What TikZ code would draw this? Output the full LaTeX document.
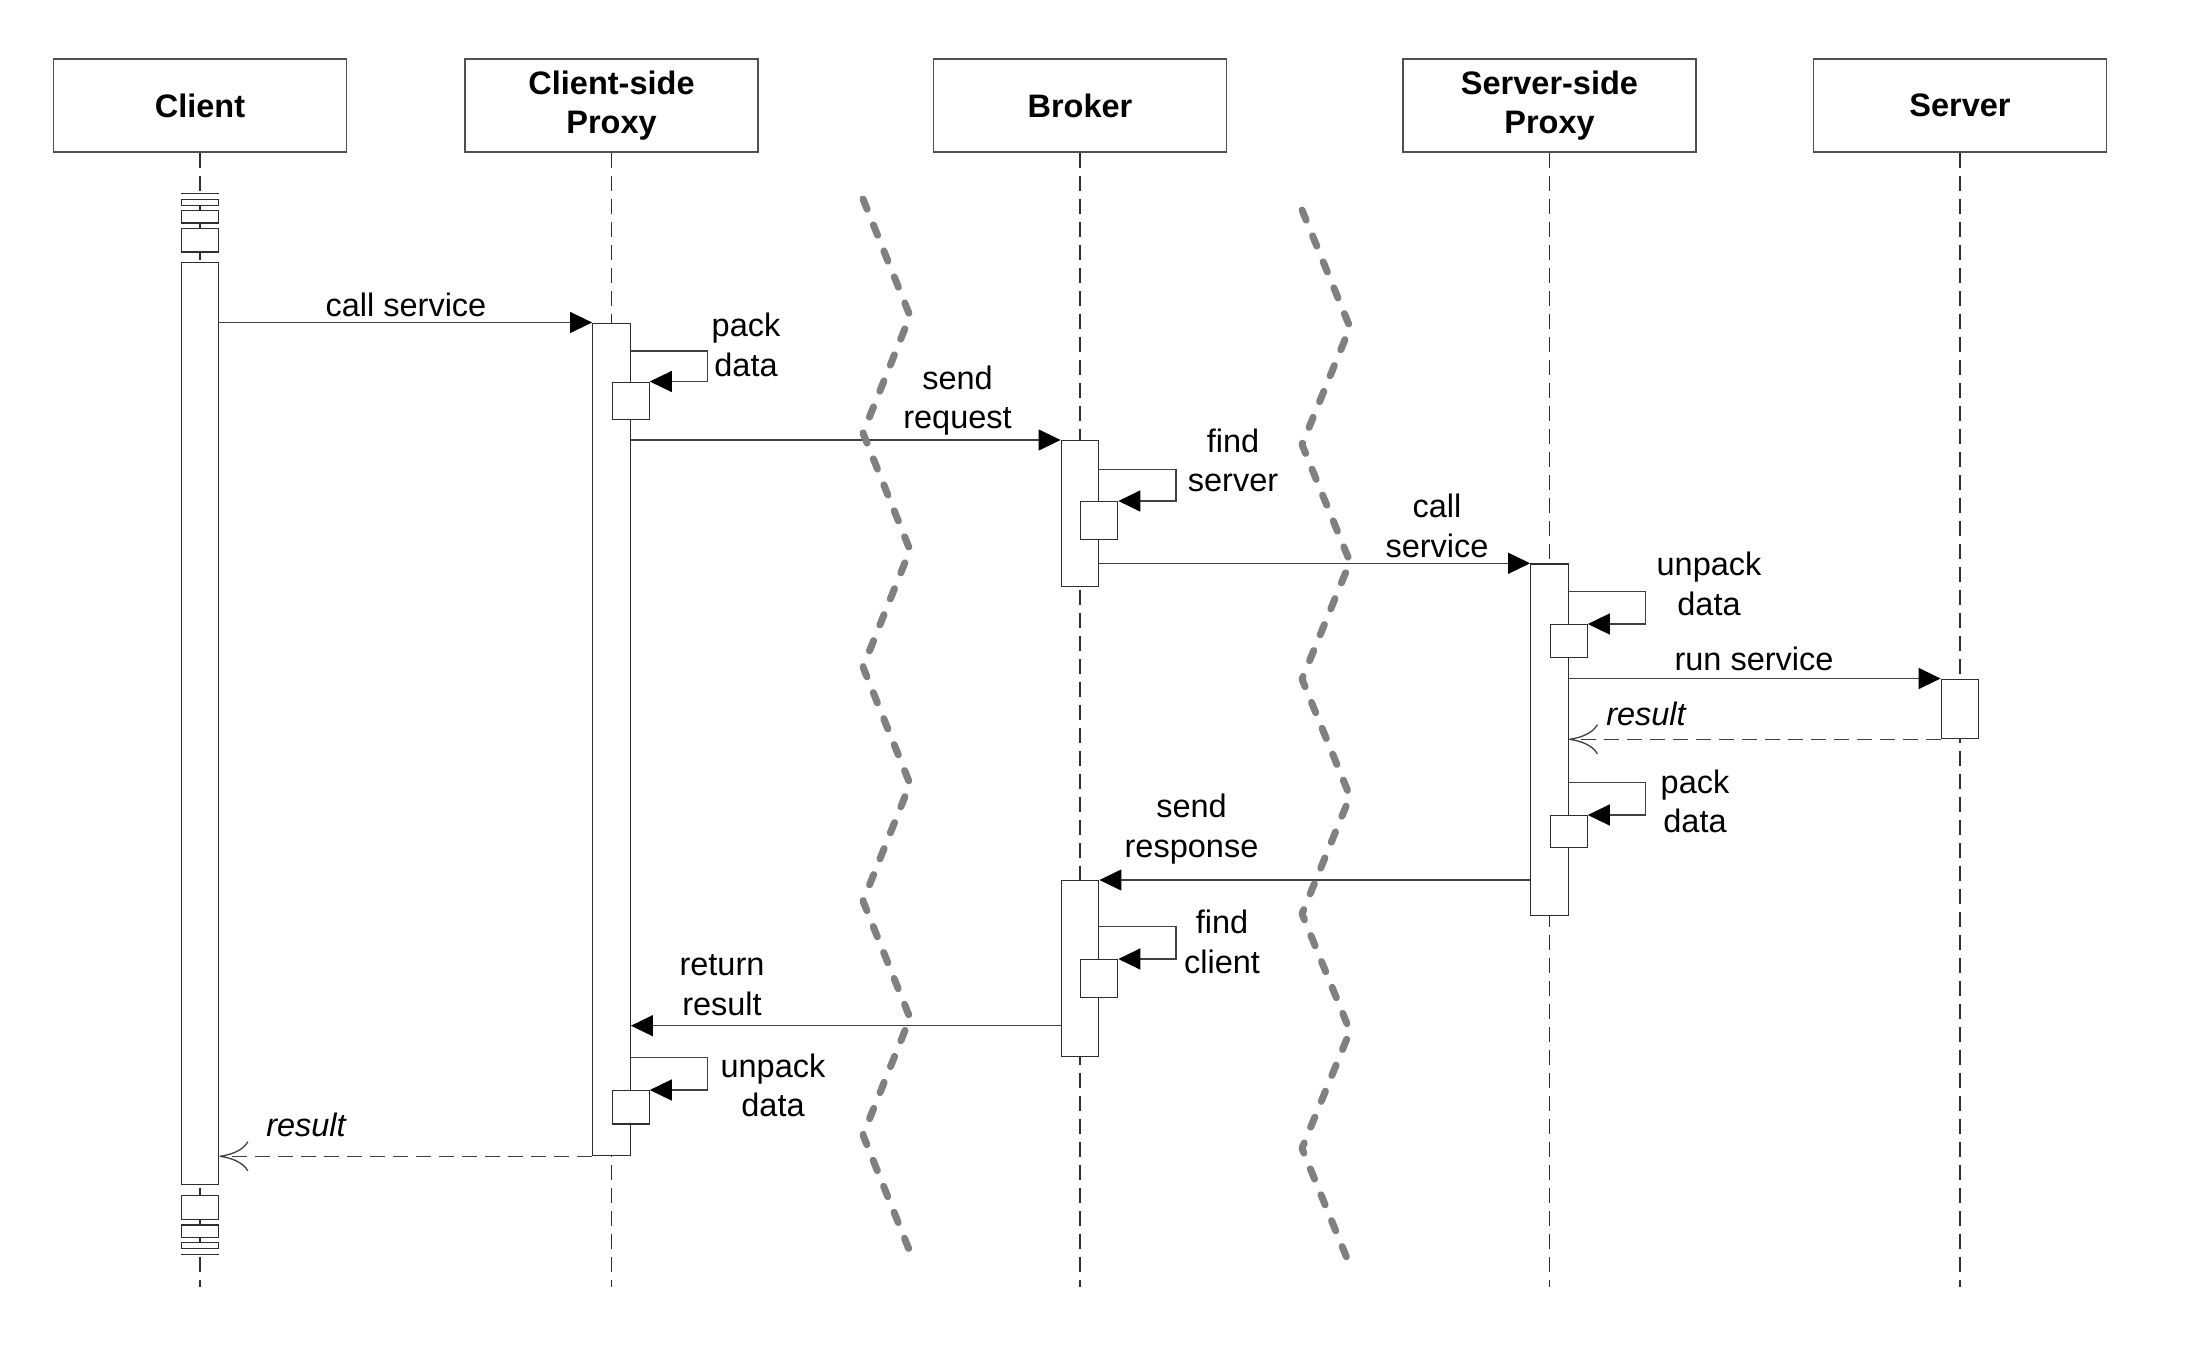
\documentclass[tikz,border=0pt]{standalone}
\usepackage{fontspec}
\setmainfont{Liberation Sans}
\usetikzlibrary{arrows.meta}
\definecolor{linecol}{HTML}{404040}
\definecolor{barcol}{HTML}{2E2E2E}
\definecolor{hdrcol}{HTML}{505050}
\definecolor{wavecol}{HTML}{808080}
\newcommand\lblfont{\fontsize{32.5pt}{39.5pt}\selectfont}
\newcommand\twol[2]{\begin{tabular}[b]{@{}c@{}}#1\\#2\end{tabular}}
\begin{document}
\begin{tikzpicture}[x=1pt,y=-1pt,
  font=\lblfont,
  hdr/.style={draw=hdrcol, line width=1.3pt, minimum width=293pt, minimum height=93pt, inner sep=0pt, align=center, font=\lblfont\bfseries},
  life/.style={draw=barcol, line width=1.1pt, dash pattern=on 15pt off 8pt},
  actbar/.style={draw=barcol, fill=white, line width=1.3pt, minimum width=37.5pt, inner sep=0pt, anchor=north},
  subbox/.style={draw=barcol, fill=white, line width=1.3pt, minimum width=37pt, inner sep=0pt, anchor=north west},
  msg/.style={draw=linecol, line width=1.4pt, -{Triangle[length=22pt,width=21pt,color=black,fill=black]}},
  ret/.style={draw=linecol, line width=1.4pt, dash pattern=on 15pt off 8pt, -{Computer Modern Rightarrow[length=29pt,width=30pt,line width=1.3pt]}},
  wave/.style={draw=wavecol, line width=7pt, line cap=round, line join=round, dash pattern=on 11pt off 17pt},
  lbl/.style={anchor=base, inner sep=0pt},
]
\useasboundingbox (0,0) rectangle (2208,1346);

% headers
\node[hdr] (h1) at (200,105.5) {Client};
\node[hdr] (h2) at (611.5,105.5) {Client-side\\Proxy};
\node[hdr] (h3) at (1080,105.5) {Broker};
\node[hdr] (h4) at (1549.5,105.5) {Server-side\\Proxy};
\node[hdr] (h5) at (1960,105.5) {Server};

% lifelines
\coordinate (e1) at (200,1287);
\coordinate (e2) at (611.5,1287);
\coordinate (e3) at (1080,1287);
\coordinate (e4) at (1549.5,1287);
\coordinate (e5) at (1960,1287);
\draw[life] (h1.south) -- (e1);
\draw[life] (h2.south) -- (e2);
\draw[life] (h3.south) -- (e3);
\draw[life] (h4.south) -- (e4);
\draw[life] (h5.south) -- (e5);

% client lifeline decorations
\draw[barcol, line width=1.3pt] (181.25,193.3) -- (218.75,193.3);
\draw[barcol, fill=white, line width=1.3pt] (181.25,199.3) rectangle (218.75,205.3);
\draw[barcol, fill=white, line width=1.3pt] (181.25,210.3) rectangle (218.75,223);
\draw[barcol, fill=white, line width=1.3pt] (181.25,228.3) rectangle (218.75,252);
\draw[barcol, fill=white, line width=1.3pt] (181.25,1195.7) rectangle (218.75,1219.3);
\draw[barcol, fill=white, line width=1.3pt] (181.25,1225) rectangle (218.75,1237.3);
\draw[barcol, fill=white, line width=1.3pt] (181.25,1242.7) rectangle (218.75,1248.7);
\draw[barcol, line width=1.3pt] (181.25,1254.3) -- (218.75,1254.3);

% activation bars
\node[actbar, minimum height=922pt] (cb) at (200,262) {};
\node[actbar, minimum height=832.5pt] (pb) at (611.5,322.5) {};
\node[actbar, minimum height=146pt] (bb1) at (1080,440) {};
\node[actbar, minimum height=351.5pt] (sp) at (1549.5,563.3) {};
\node[actbar, minimum height=59.5pt] (sv) at (1960,678.5) {};
\node[actbar, minimum height=175.5pt] (bb2) at (1080,880) {};

% nested activation boxes
\node[subbox, minimum height=37.5pt] (a1) at (611.5,381.5) {};
\node[subbox, minimum height=38pt] (a2) at (1080,501) {};
\node[subbox, minimum height=32.7pt] (a3) at (1549.5,624) {};
\node[subbox, minimum height=31.7pt] (a4) at (1549.5,815) {};
\node[subbox, minimum height=37.7pt] (a5) at (1080,959) {};
\node[subbox, minimum height=33.3pt] (a6) at (611.5,1090) {};

% messages
\draw[msg] (cb.east |- pb.north) -- (pb.north west);
\draw[msg] (pb.east |- bb1.north) -- (bb1.north west);
\draw[msg] (bb1.east |- sp.north) -- (sp.north west);
\draw[msg] (sp.east |- sv.north) -- (sv.north west);
\draw[ret] (sv.south west) -- (sp.east |- sv.south west);
\draw[msg] (sp.west |- bb2.north) -- (bb2.north east);
\coordinate (rr) at (1061.25,1025.7);
\draw[msg] (rr) -- (pb.east |- rr);
\draw[ret] (pb.south west) -- (cb.east |- pb.south west);

% self calls
\draw[msg] (pb.east |- 0,351) -- ++(76.5,0) |- (a1.north east);
\draw[msg] (bb1.east |- 0,469.3) -- ++(76.5,0) |- (a2.north east);
\draw[msg] (sp.east |- 0,591.7) -- ++(76.5,0) |- (a3.north east);
\draw[msg] (sp.east |- 0,782.3) -- ++(76.5,0) |- (a4.north east);
\draw[msg] (bb2.east |- 0,926.7) -- ++(76.5,0) |- (a5.north east);
\draw[msg] (pb.east |- 0,1057.7) -- ++(76.5,0) |- (a6.north east);

% wavy separators
\draw[wave] (863,199) -- (910,316) -- (863,433) -- (910,550) -- (863,667) -- (910,784) -- (863,901) -- (910,1018) -- (863,1135) -- (910,1252);
\draw[wave] (1302,210) -- (1350,327.3) -- (1302,444.6) -- (1350,561.9) -- (1302,679.2) -- (1350,796.5) -- (1302,913.8) -- (1350,1031.1) -- (1302,1148.4) -- (1350,1265.7);

% labels
\node[lbl] (t1) at (406,316.7) {call service};
\node[lbl] (t2) at (746,376) {\twol{pack}{data}};
\node[lbl] (t3) at (957.5,428.6) {\twol{send}{request}};
\node[lbl] (t4) at (1233,491.7) {\twol{find}{server}};
\node[lbl] (t5) at (1437,557) {\twol{call}{service}};
\node[lbl] (t6) at (1709,615) {\twol{unpack}{data}};
\node[lbl] (t7) at (1754,670.5) {run service};
\node[lbl] (t8) at (1646,725) {\itshape result};
\node[lbl] (t9) at (1695,832.5) {\twol{pack}{data}};
\node[lbl] (t10) at (1191.5,857) {\twol{send}{response}};
\node[lbl] (t11) at (1222,973.3) {\twol{find}{client}};
\node[lbl] (t12) at (722,1015) {\twol{return}{result}};
\node[lbl] (t13) at (773,1116.7) {\twol{unpack}{data}};
\node[lbl] (t14) at (306,1136) {\itshape result};
\end{tikzpicture}
\end{document}
